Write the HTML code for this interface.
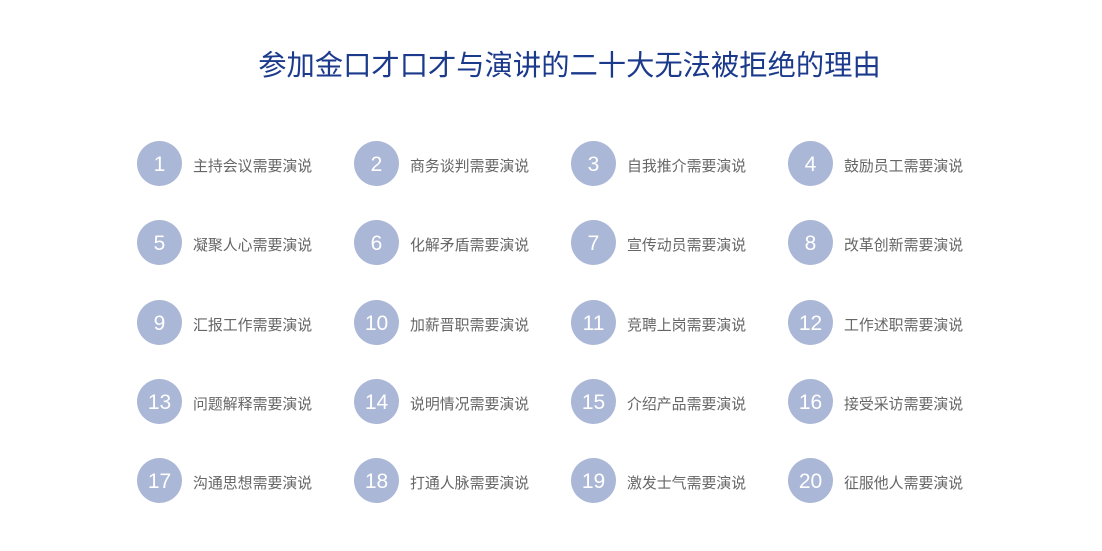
<!DOCTYPE html>
<html><head><meta charset="utf-8"><style>
body{margin:0;width:1102px;height:551px;background:#fff;position:relative;overflow:hidden;font-family:"Liberation Sans","Noto Sans CJK SC",sans-serif}
h1{position:absolute;top:46px;left:0;width:1139px;text-align:center;margin:0;font-size:28.3px;font-weight:normal;color:#1b3a8c;line-height:38px;font-family:"Liberation Sans","Noto Sans CJK SC",sans-serif}
.c{position:absolute;width:45px;height:45px;border-radius:50%;background:#abb7d7;color:#fff;font-size:21px;line-height:47px;text-align:center}
.t{position:absolute;font-size:14.9px;color:#666;line-height:20px;white-space:nowrap}
</style></head><body>
<h1>参加金口才口才与演讲的二十大无法被拒绝的理由</h1>
<div id="g"></div>
<script>
var L=["主持会议","商务谈判","自我推介","鼓励员工","凝聚人心","化解矛盾","宣传动员","改革创新","汇报工作","加薪晋职","竞聘上岗","工作述职","问题解释","说明情况","介绍产品","接受采访","沟通思想","打通人脉","激发士气","征服他人"];
var xs=[137,354,571,788],ys=[141,220,300,379,458],h="";
for(var i=0;i<20;i++){var x=xs[i%4],y=ys[Math.floor(i/4)];
h+='<div class="c" style="left:'+x+'px;top:'+y+'px">'+(i+1)+'</div><div class="t" style="left:'+(x+56)+'px;top:'+(y+16)+'px">'+L[i]+'需要演说</div>';}
document.getElementById("g").innerHTML=h;
</script>
</body></html>
